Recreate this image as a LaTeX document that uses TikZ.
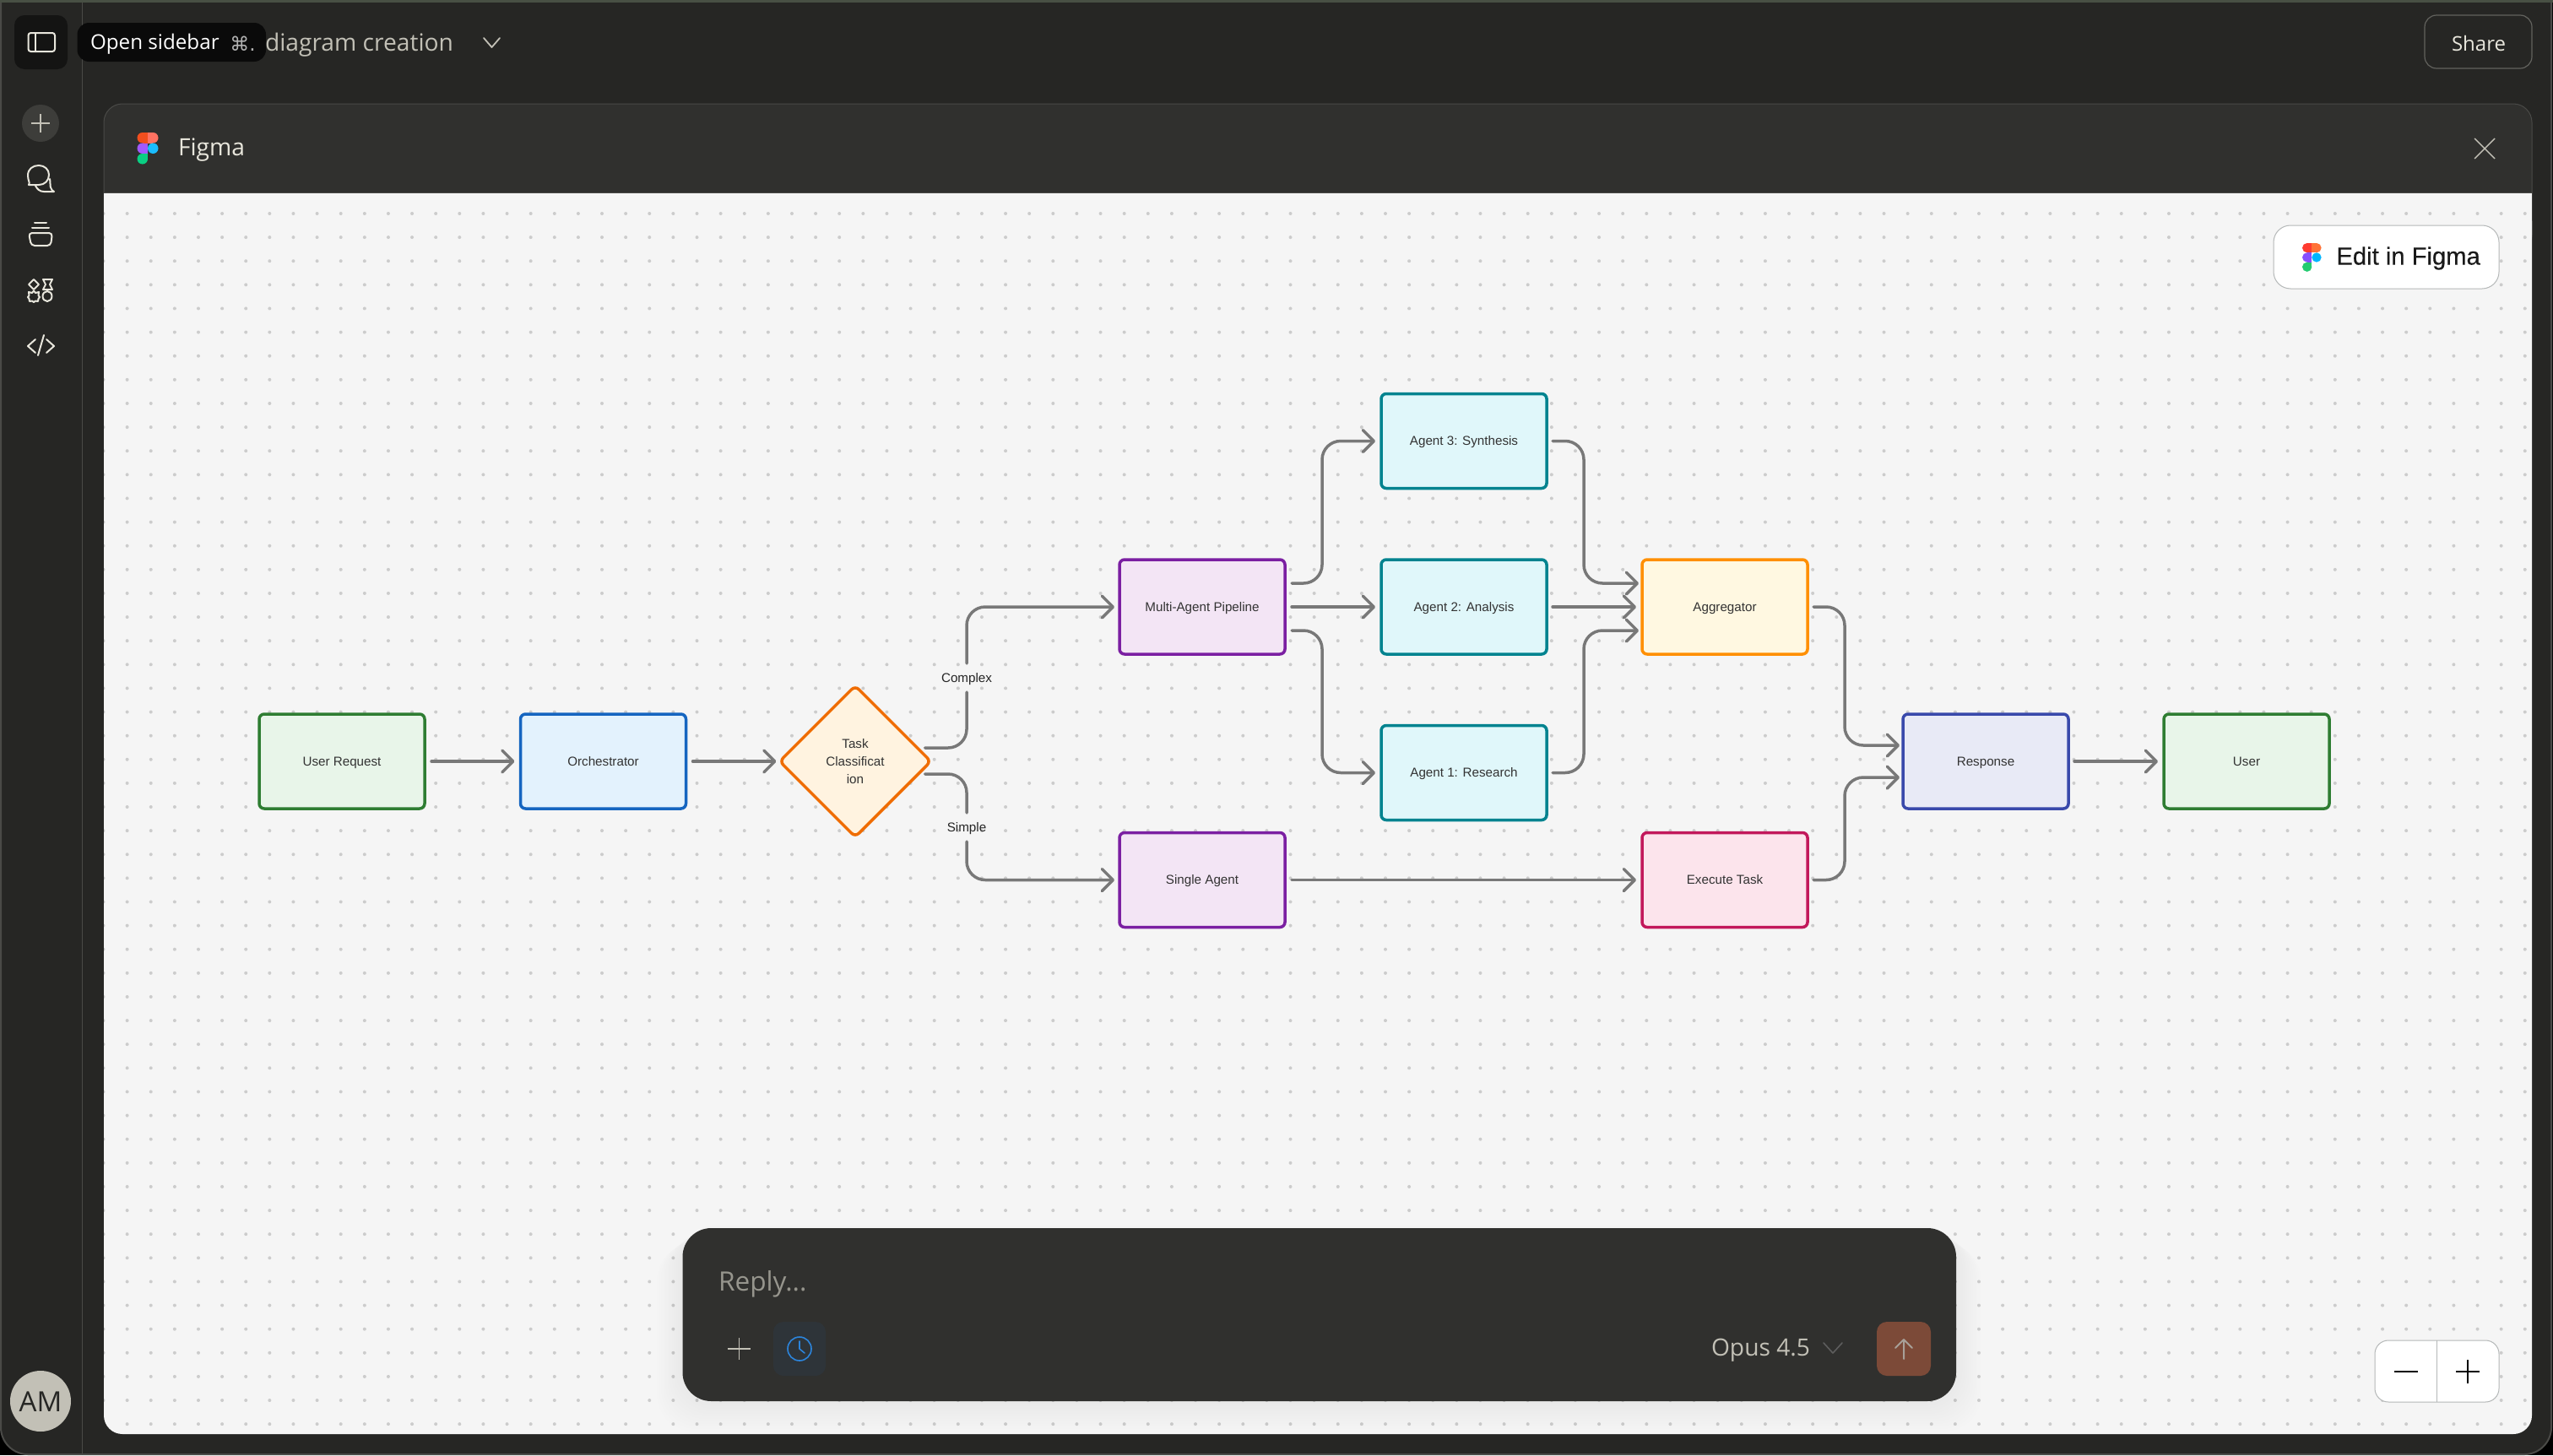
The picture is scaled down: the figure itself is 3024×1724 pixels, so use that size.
\documentclass[tikz,border=0pt]{standalone}
\usepackage{fontspec}
\setmainfont{Liberation Sans}
\newfontfamily\uifont{Open Sans}
\newfontfamily\symfont{DejaVu Sans}
\newfontfamily\editfont[FakeBold=0.25]{Liberation Sans}
\usetikzlibrary{arrows.meta,shapes.geometric,calc}
\definecolor{appbg}{HTML}{262624}
\definecolor{panelbg}{HTML}{30302E}
\definecolor{canvasbg}{HTML}{F5F5F5}
\definecolor{dotc}{HTML}{CCCCCC}
\definecolor{edgec}{HTML}{787878}
\definecolor{uiline}{HTML}{4A4A47}
\definecolor{shareline}{HTML}{62625E}
\definecolor{uitext}{HTML}{C2C0B6}
\definecolor{iconc}{HTML}{E8E6DC}
\definecolor{topstrip}{HTML}{485044}
\definecolor{tipbg}{HTML}{0A0A0A}
\definecolor{sidebtn}{HTML}{141413}
\definecolor{plusbtn}{HTML}{3D3D3A}
\definecolor{clockbg}{HTML}{2E3439}
\definecolor{clockc}{HTML}{2C84DB}
\definecolor{sendbg}{HTML}{7C4A38}
\definecolor{sendc}{HTML}{A8A098}
\definecolor{btnline}{HTML}{B5B8B8}
\definecolor{cGreenL}{HTML}{2E7D32}\definecolor{cGreenF}{HTML}{E8F5E9}
\definecolor{cBlueL}{HTML}{1565C0}\definecolor{cBlueF}{HTML}{E3F2FD}
\definecolor{cOrL}{HTML}{EF6C00}\definecolor{cOrF}{HTML}{FFF3E0}
\definecolor{cPuL}{HTML}{7B1FA2}\definecolor{cPuF}{HTML}{F3E5F5}
\definecolor{cTeL}{HTML}{00838F}\definecolor{cTeF}{HTML}{E0F7FA}
\definecolor{cAmL}{HTML}{FF8F00}\definecolor{cAmF}{HTML}{FFF8E1}
\definecolor{cPiL}{HTML}{C2185B}\definecolor{cPiF}{HTML}{FCE4EC}
\definecolor{cInL}{HTML}{3949AB}\definecolor{cInF}{HTML}{E8EAF6}
\definecolor{fa}{HTML}{F24E1E}\definecolor{fb}{HTML}{FF7262}\definecolor{fc}{HTML}{A259FF}\definecolor{fd}{HTML}{1ABCFE}\definecolor{fe}{HTML}{0ACF83}
\definecolor{ga}{HTML}{FF3B30}\definecolor{gb}{HTML}{FF7237}\definecolor{gc}{HTML}{874FFF}\definecolor{gd}{HTML}{00B6FF}\definecolor{ge}{HTML}{24CB71}
\newcommand{\figlogo}[8]{%
\begin{scope}[shift={(#1,#2)},xscale=#3,yscale=#3]
\fill[#4] (1,1) circle [radius=1]; \fill[#4] (1,0) rectangle (2,2);
\fill[#5] (3,1) circle [radius=1]; \fill[#5] (2,0) rectangle (3,2);
\fill[#6] (1,3) circle [radius=1]; \fill[#6] (1,2) rectangle (2,4);
\fill[#7] (3,3) circle [radius=1];
\fill[#8] (1,5) circle [radius=1]; \fill[#8] (1,4) rectangle (2,5);
\end{scope}}
\tikzset{
  box/.style 2 args={draw=#1,fill=#2,rectangle,rounded corners=3pt,line width=1.75pt,minimum width=98pt,minimum height=56pt,inner sep=0pt,outer sep=0pt,text=black!80,text height=5.4pt,text depth=0pt,font=\fontsize{7.6}{9}\selectfont},
  edge/.style={draw=edgec,line width=1.75pt,line cap=round,rounded corners=11pt},
  arr/.style={edge,-{Straight Barb[length=6.5pt,width=13pt,round]}},
  elabel/.style={inner sep=0pt,outer sep=0pt,minimum width=20pt,minimum height=17pt,text=black!85,text height=5.4pt,text depth=0pt,font=\fontsize{7.6}{9}\selectfont},
  icon/.style={draw=iconc,line width=1pt,line cap=round,line join=round},
  uitxt/.style={inner sep=0pt,outer sep=0pt,font=\uifont\fontsize{14.1}{17}\selectfont}
}
\begin{document}
\begin{tikzpicture}[x=.5pt,y=-.5pt]
\useasboundingbox (0,0) rectangle (3024,1724);
% window
\fill[black] (0,0) rectangle (3024,1724);
\draw[fill=appbg,draw=uiline,line width=1pt,rounded corners=16pt] (1,-30) rectangle (3022,1723);
\fill[topstrip] (0,0) rectangle (3024,2.5);
\draw[uiline,line width=.5pt] (97,3) -- (97,1722);
% panel
\draw[fill=panelbg,draw=uiline,line width=.5pt,rounded corners=11pt] (123,123) -- (123,300) -- (2999,300) -- (2999,123) -- cycle;
\fill[canvasbg,rounded corners=11pt] (123,240) -- (123,1699) -- (2999,1699) -- (2999,240) -- cycle;
\fill[canvasbg] (123,228) rectangle (2999,300);
\draw[uiline,line width=.5pt] (123,228) -- (2999,228);
\begin{scope}
\clip[rounded corners=11pt] (123,228) -- (123,1699) -- (2999,1699) -- (2999,228) -- cycle;
\foreach \j in {0,...,51}{
  \draw[dotc,line width=2pt,line cap=round,dash pattern=on 0pt off 14.06pt] (122.5,{253+28.12*\j}) -- (3010,{253+28.12*\j});
}
\end{scope}
% top bar
\node[uitxt,anchor=west,text=uitext] (title) at (314,53) {diagram creation};
\draw[uitext,line width=.9pt,line cap=round,line join=round] (573,45) -- (582.5,56) -- (592,45);
\fill[sidebtn,rounded corners=6pt] (17,18) rectangle (80,82);
\draw[icon,rounded corners=1.5pt] (33.5,39) rectangle (65,61);
\draw[icon] (42,39) -- (42,61);
\fill[tipbg,rounded corners=7pt] (91.5,27) rectangle (315,73);
\node[uitxt,anchor=west,text=white,font=\uifont\fontsize{12.1}{15}\selectfont] (tip) at (107,52.5) {Open sidebar};
\node[anchor=west,inner sep=0pt,text=white!70!black,font=\symfont\fontsize{11.5}{14}\selectfont] (tipkey) at (272,52) {⌘.};
\draw[fill=appbg,draw=shareline,line width=.6pt,rounded corners=7pt] (2872,18) rectangle (2999,81);
\node[uitxt,text=iconc,font=\uifont\fontsize{12}{15}\selectfont] (share) at (2936,51.5) {Share};
% sidebar icons
\fill[plusbtn] (48,146) circle [radius=22];
\draw[uitext,line width=1pt] (37,146) -- (59,146) (48,135) -- (48,157);
\draw[icon] (34,219) .. controls (36,216) and (33,214) .. (33,208) .. controls (33,200) and (39,196) .. (46,196) .. controls (53,196) and (58,201) .. (58,207) .. controls (58,214) and (53,219) .. (46,219) -- cycle;
\draw[icon] (59,212) .. controls (60,216) and (59,220) .. (60,222) .. controls (61,225) and (62,226) .. (64,227) -- (52,227) .. controls (47,227) and (44,224) .. (42,220);
\draw[icon] (41,264) -- (55,264) (38,270) -- (58,270);
\draw[icon,rounded corners=2pt] (34,276) -- (62,276) -- (60,291) -- (37,291) -- cycle;
\draw[icon] (40,331) -- (46,337) -- (40,343) -- (34,337) -- cycle;
\draw[icon] (51,331) -- (62,331) -- (59,337) -- (62,343) -- (51,343) -- (54,337) -- cycle;
\draw[icon] (40,344.5) -- (42,347) -- (46,346) -- (45.5,350) -- (47,352) -- (45.5,354) -- (45,357) -- (42,356.5) -- (40,358) -- (38,356.5) -- (35,357) -- (34.5,354) -- (33,352) -- (34.5,350) -- (34,346) -- (38,347) -- cycle;
\draw[icon] (56,351) ellipse [x radius=5.5,y radius=6];
\draw[icon] (42,402) -- (33,410) -- (42,418) (55,402) -- (64,410) -- (55,418) (52,397) -- (45,421);
\fill[uitext] (48,1660) circle [radius=36];
\node[uitxt,text=appbg,font=\uifont\fontsize{16.5}{18}\selectfont] (am) at (48,1661) {AM};
% panel header
\figlogo{162.5}{157}{6.25}{fa}{fb}{fc}{fd}{fe}
\node[uitxt,anchor=west,text=iconc] (figma) at (211,178) {Figma};
\draw[uitext,line width=.7pt] (2931,164) -- (2955,188) (2955,164) -- (2931,188);
% edit button
\draw[fill=white,draw=btnline,line width=.5pt,rounded corners=10pt] (2693,267) rectangle (2960,342);
\figlogo{2727}{288}{5.65}{ga}{gb}{gc}{gd}{ge}
\node[anchor=west,inner sep=0pt,text=black!90,font=\editfont\fontsize{14.6}{18}\selectfont] (edit) at (2767,306) {Edit in Figma};
% nodes
\node[box={cGreenL}{cGreenF}] (req) at (405,902) {User Request};
\node[box={cBlueL}{cBlueF}] (orc) at (714.5,902) {Orchestrator};
\node[draw=cOrL,fill=cOrF,diamond,aspect=1,line width=1.75pt,rounded corners=3pt,minimum width=89.5pt,minimum height=89.5pt,inner sep=0pt,outer sep=0pt] (cls) at (1013,902) {};
\node[align=center,inner sep=0pt,text=black!80,font=\fontsize{7.6}{10.5}\selectfont] (clsText) at (1013,902) {Task\\Classificat\\ion};
\node[box={cPuL}{cPuF}] (multi) at (1424,719) {Multi-Agent Pipeline};
\node[box={cPuL}{cPuF}] (single) at (1424,1042.5) {Single Agent};
\node[box={cTeL}{cTeF}] (a3) at (1734,522.5) {Agent 3: Synthesis};
\node[box={cTeL}{cTeF}] (a2) at (1734,719) {Agent 2: Analysis};
\node[box={cTeL}{cTeF}] (a1) at (1734,915.5) {Agent 1: Research};
\node[box={cAmL}{cAmF}] (agg) at (2043,719) {Aggregator};
\node[box={cPiL}{cPiF}] (exe) at (2043,1042.5) {Execute Task};
\node[box={cInL}{cInF}] (resp) at (2352,902) {Response};
\node[box={cGreenL}{cGreenF}] (usr) at (2661,902) {User};
\node[elabel] (lc) at (1145,803) {Complex};
\node[elabel] (ls) at (1145,980) {Simple};
% connectors
\draw[arr] ([xshift=4pt]req.east) -- ([xshift=-3.5pt]orc.west);
\draw[arr] ([xshift=4pt]orc.east) -- ([xshift=-2pt]cls.west);
\draw[edge] ([shift={(-7,-16)}]cls.east) -| (lc.south);
\draw[arr] (lc.north) |- ([xshift=-3pt]multi.west);
\draw[edge] ([shift={(-7,15)}]cls.east) -| (ls.north);
\draw[arr] (ls.south) |- ([xshift=-3pt]single.west);
\draw[arr] ([shift={(8,-28)}]multi.east) -- ++(36,0) |- ([xshift=-3.5pt]a3.west);
\draw[arr] ([xshift=4pt]multi.east) -- ([xshift=-3.5pt]a2.west);
\draw[arr] ([shift={(8,28)}]multi.east) -- ++(36,0) |- ([xshift=-3.5pt]a1.west);
\draw[arr] ([xshift=3.5pt]a3.east) -- ++(37,0) |- ([shift={(-4,-28)}]agg.west);
\draw[arr] ([xshift=3.5pt]a2.east) -- ([xshift=-3.5pt]agg.west);
\draw[arr] ([xshift=3.5pt]a1.east) -- ++(37,0) |- ([shift={(-4,28)}]agg.west);
\draw[arr] ([xshift=3.5pt]agg.east) -- ++(37,0) |- ([shift={(-4,-19)}]resp.west);
\draw[arr] ([xshift=3.5pt]exe.east) -- ++(37,0) |- ([shift={(-4,19)}]resp.west);
\draw[arr] ([xshift=4pt]single.east) -- ([xshift=-3.5pt]exe.west);
\draw[arr] ([xshift=3.5pt]resp.east) -- ([xshift=-3.5pt]usr.west);
% reply box
\foreach \k in {1,...,12}{
  \fill[black,opacity=.004,rounded corners=22pt] ({808-2.5*\k},{1455+2*\k-6}) rectangle ({2317+2.5*\k},{1660+3*\k});
}
\fill[panelbg,rounded corners=17pt] (808.5,1455) rectangle (2317,1660);
\node[uitxt,anchor=west,text=uitext!70!panelbg,font=\uifont\fontsize{15.8}{18}\selectfont] (reply) at (851,1521) {Reply...};
\draw[uitext,line width=.8pt] (862,1598) -- (889,1598) (875.5,1585) -- (875.5,1611);
\fill[clockbg,rounded corners=6pt] (916,1566) rectangle (978,1630);
\draw[clockc,line width=.8pt] (947,1598) circle [radius=14];
\draw[clockc,line width=.8pt,line cap=round] (947,1589) -- (947,1598) -- (953,1603);
\node[uitxt,anchor=west,text=uitext,font=\uifont\fontsize{14.1}{17}\selectfont] (opus) at (2027,1600) {Opus 4.5};
\draw[edgec!120!white,line width=.8pt,line cap=round,line join=round] (2160,1591) -- (2171,1603) -- (2182,1591);
\fill[sendbg,rounded corners=6pt] (2223,1566) rectangle (2287,1630);
\draw[sendc,line width=1pt,line cap=round,line join=round] (2255,1610) -- (2255,1587) (2245,1597) -- (2255,1587) -- (2265,1597);
% zoom control
\draw[fill=white,draw=btnline,line width=.5pt,rounded corners=8pt] (2813,1588) rectangle (2960,1661);
\draw[btnline,line width=.5pt] (2886,1588) -- (2886,1661);
\draw[black,line width=.9pt] (2836,1625) -- (2864,1625) (2909,1625) -- (2937,1625) (2923,1611) -- (2923,1639);
\end{tikzpicture}
\end{document}
